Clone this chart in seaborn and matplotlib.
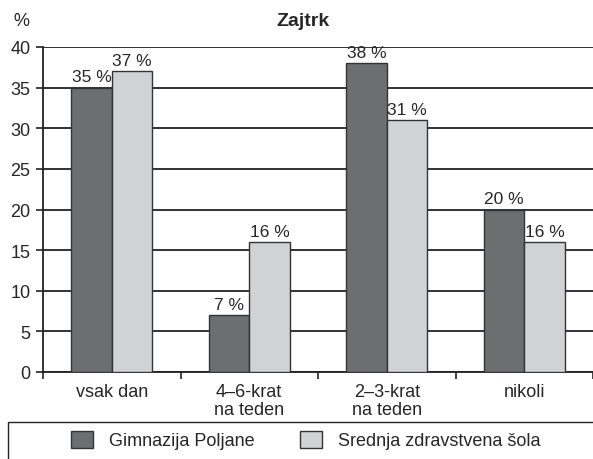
import pandas as pd
import numpy as np
import matplotlib.pyplot as plt
import seaborn as sns
from matplotlib.patches import Patch, Rectangle

sns.set_style("white")
plt.rcParams['font.family'] = ['Liberation Sans', 'DejaVu Sans']

categories = ['vsak dan', '4–6-krat\nna teden', '2–3-krat\nna teden', 'nikoli']
schools = ['Gimnazija Poljane', 'Srednja zdravstvena šola']
gimnazija = [35, 7, 38, 20]
zdravstvena = [37, 16, 31, 16]
colors = ['#6d6e70', '#d1d2d4']

df = pd.DataFrame({
    'kategorija': categories * 2,
    'sola': [schools[0]] * 4 + [schools[1]] * 4,
    'delez': gimnazija + zdravstvena,
})

fig = plt.figure(figsize=(5.93, 4.60), dpi=100)
ax = fig.add_axes([43 / 593, 1 - 373 / 460, 1 - 43 / 593, (373 - 48) / 460])

sns.barplot(data=df, x='kategorija', y='delez', hue='sola', order=categories,
            hue_order=schools, palette=colors, width=0.59, dodge=True,
            edgecolor='#333333', linewidth=1.0, ax=ax, legend=False, zorder=3)

for cont in ax.containers:
    ax.bar_label(cont, fmt='%g %%', fontsize=12.5, padding=2.5)

ax.set_ylim(0, 40)
ax.set_xlim(-0.5, -0.5 + 550 / 139)
ax.set_yticks(range(0, 41, 5))
ax.yaxis.grid(True, color='#222222', linewidth=1.3, zorder=0)
ax.set_axisbelow(True)
ax.set_xticks([-0.5, 0.5, 1.5, 2.5, 3.5], minor=False)
ax.set_xticklabels([''] * 5)
ax.set_xticks([0, 1, 2, 3], minor=True)
ax.set_xticklabels(categories, minor=True, fontsize=13, linespacing=1.1)
ax.tick_params(axis='x', which='major', length=5, width=1.2, color='#222222', direction='out', bottom=True)
ax.tick_params(axis='x', which='minor', length=0, pad=8)
ax.tick_params(axis='y', length=5, width=1.2, color='#222222', direction='out', left=True, labelsize=13, pad=4)
ax.set_xlabel('')
ax.set_ylabel('')
for s in ['top', 'right']:
    ax.spines[s].set_visible(False)
ax.spines['left'].set_color('#222222')
ax.spines['bottom'].set_color('#222222')
ax.spines['left'].set_linewidth(1.3)
ax.spines['bottom'].set_linewidth(1.3)

fig.text(303 / 593, 1 - 22 / 460, 'Zajtrk', ha='center', va='center', fontsize=14, fontweight='bold')
fig.text(21 / 593, 1 - 21 / 460, '%', ha='center', va='center', fontsize=13)

fig.patches.append(Rectangle((8 / 593, -0.05), 0.99, (0.05 + (460 - 423) / 460),
                             transform=fig.transFigure, fill=False, edgecolor='#222222', linewidth=1.0))
handles = [Patch(facecolor=c, edgecolor='#333333', linewidth=1.0) for c in colors]
fig.legend(handles, schools, loc='center left', bbox_to_anchor=(55 / 593, 1 - 441 / 460), ncol=2,
           frameon=False, fontsize=13, handlelength=1.2, handleheight=1.1, columnspacing=2.5,
           handletextpad=0.9)

plt.savefig('out.png', dpi=100)
